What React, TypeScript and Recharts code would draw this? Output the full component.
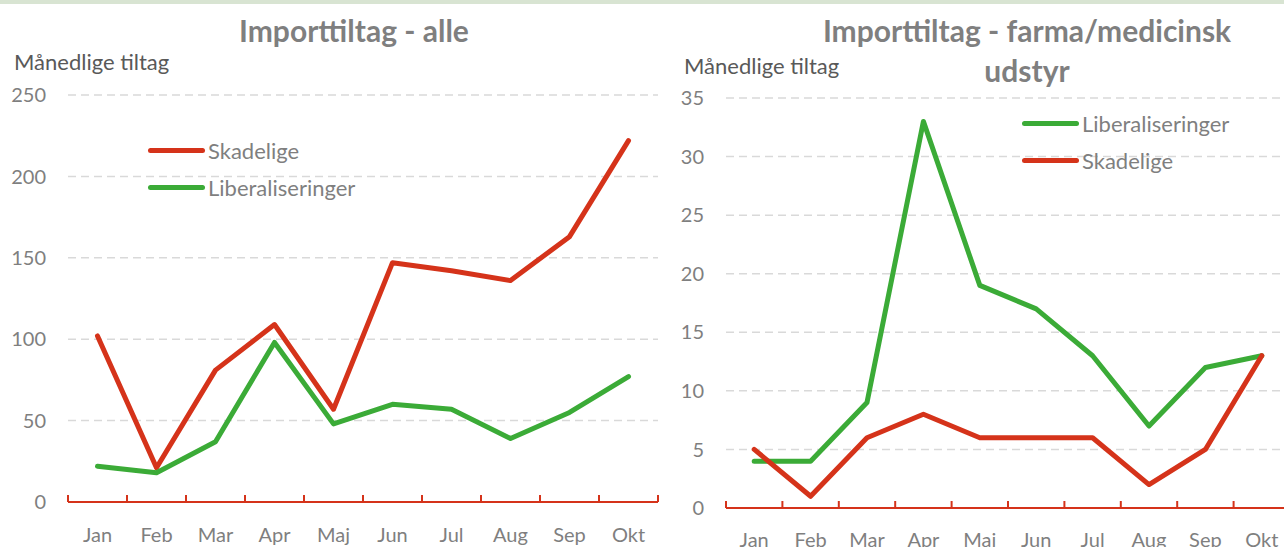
import { LineChart, Line, XAxis, YAxis, CartesianGrid } from "recharts";

const MONTHS = ["Jan", "Feb", "Mar", "Apr", "Maj", "Jun", "Jul", "Aug", "Sep", "Okt"];

const ALL_SKADELIGE = [102, 21, 81, 109, 57, 147, 142, 136, 163, 222];
const ALL_LIBERALISERINGER = [22, 18, 37, 98, 48, 60, 57, 39, 55, 77];
const ALL_Y_TICKS = [0, 50, 100, 150, 200, 250];

const PHARMA_LIBERALISERINGER = [4, 4, 9, 33, 19, 17, 13, 7, 12, 13];
const PHARMA_SKADELIGE = [5, 1, 6, 8, 6, 6, 6, 2, 5, 13];
const PHARMA_Y_TICKS = [0, 5, 10, 15, 20, 25, 30, 35];

const RED = "#d5331a";
const GREEN = "#3bab37";
const TEXT_GRAY = "#7f7f7f";
const FONT = "Lato, 'Open Sans', sans-serif";

const ALL_DATA = MONTHS.map((month, i) => ({
  month,
  skadelige: ALL_SKADELIGE[i],
  liberaliseringer: ALL_LIBERALISERINGER[i],
}));

const PHARMA_DATA = MONTHS.map((month, i) => ({
  month,
  skadelige: PHARMA_SKADELIGE[i],
  liberaliseringer: PHARMA_LIBERALISERINGER[i],
}));

type Series = { key: string; name: string; color: string };

const ALL_SERIES: Series[] = [
  { key: "skadelige", name: "Skadelige", color: RED },
  { key: "liberaliseringer", name: "Liberaliseringer", color: GREEN },
];

const PHARMA_SERIES: Series[] = [
  { key: "liberaliseringer", name: "Liberaliseringer", color: GREEN },
  { key: "skadelige", name: "Skadelige", color: RED },
];

interface PanelProps {
  data: typeof ALL_DATA;
  series: Series[];
  yTicks: number[];
  left: number;
  width: number;
  top: number;
  yAxisWidth: number;
  xAxisHeight: number;
  labelMargin: number;
  legendLeft: number;
  legendTop: number;
}

const SketchLegend = ({ series, left, top }: { series: Series[]; left: number; top: number }) => (
  <div style={{ position: "absolute", left, top, fontFamily: FONT, fontSize: 22, color: TEXT_GRAY }}>
    {series.map((s) => (
      <div key={s.key} style={{ display: "flex", alignItems: "center", height: 37 }}>
        <span style={{ width: 57, height: 5, borderRadius: 2.5, background: s.color, marginRight: 3 }} />
        <span>{s.name}</span>
      </div>
    ))}
  </div>
);

// month label at the band centre, Excel style tick marks on the band edges (pointing up)
const makeMonthTick = (halfBand: number, labelMargin: number) => (props: any) => {
  const { x, y, payload, index } = props;
  const axisY = y - labelMargin;
  return (
    <g>
      <line x1={x - halfBand} x2={x - halfBand} y1={axisY} y2={axisY - 7} stroke={RED} strokeWidth={2} />
      {index === MONTHS.length - 1 && (
        <line x1={x + halfBand} x2={x + halfBand} y1={axisY} y2={axisY - 7} stroke={RED} strokeWidth={2} />
      )}
      <text x={x} y={y} dy="0.71em" textAnchor="middle" fill={TEXT_GRAY} fontSize={20} fontFamily={FONT}>
        {payload.value}
      </text>
    </g>
  );
};

const MonthlyPanel = ({
  data,
  series,
  yTicks,
  left,
  width,
  top,
  yAxisWidth,
  xAxisHeight,
  labelMargin,
  legendLeft,
  legendTop,
}: PanelProps) => {
  const plotWidth = width - yAxisWidth - 2;
  const pad = plotWidth / (MONTHS.length * 2);
  return (
    <div style={{ position: "absolute", left, top: 0, width, height: 547 }}>
      <LineChart
        width={width}
        height={547}
        data={data}
        margin={{ top, right: 2, bottom: 0, left: 0 }}
        style={{ fontFamily: FONT }}
      >
        <CartesianGrid vertical={false} stroke="#d9d9d9" strokeWidth={1.5} strokeDasharray="8 5" />
        <XAxis
          dataKey="month"
          type="category"
          interval={0}
          padding={{ left: pad, right: pad }}
          axisLine={{ stroke: RED, strokeWidth: 2 }}
          tickLine={false}
          tickSize={0}
          tickMargin={labelMargin}
          height={xAxisHeight}
          tick={makeMonthTick(pad, labelMargin)}
        />
        <YAxis
          domain={[0, yTicks[yTicks.length - 1]]}
          ticks={yTicks}
          interval={0}
          width={yAxisWidth}
          axisLine={false}
          tickLine={false}
          tickMargin={16}
          tick={{ fill: TEXT_GRAY, fontSize: 20 }}
        />
        {series.map((s) => (
          <Line
            key={s.key}
            type="linear"
            dataKey={s.key}
            name={s.name}
            stroke={s.color}
            strokeWidth={5}
            strokeLinecap="round"
            strokeLinejoin="round"
            dot={false}
            activeDot={false}
            isAnimationActive={false}
          />
        ))}
      </LineChart>
      <SketchLegend series={series} left={legendLeft} top={legendTop} />
    </div>
  );
};

const textBase = { position: "absolute" as const, fontFamily: FONT, color: TEXT_GRAY, whiteSpace: "nowrap" as const };

export default function App() {
  return (
    <div
      style={{
        position: "absolute",
        left: 0,
        top: 0,
        width: 1284,
        height: 547,
        background: "#ffffff",
        overflow: "hidden",
      }}
    >
      <div style={{ position: "absolute", left: 0, top: 0, width: 1284, height: 4, background: "#d8e4d2" }} />

      <MonthlyPanel
        data={ALL_DATA}
        series={ALL_SERIES}
        yTicks={ALL_Y_TICKS}
        left={0}
        width={660}
        top={95}
        yAxisWidth={68}
        xAxisHeight={45}
        labelMargin={26}
        legendLeft={148}
        legendTop={150 - 18}
      />
      <MonthlyPanel
        data={PHARMA_DATA}
        series={PHARMA_SERIES}
        yTicks={PHARMA_Y_TICKS}
        left={660}
        width={632}
        top={98}
        yAxisWidth={66}
        xAxisHeight={39}
        labelMargin={25}
        legendLeft={1022 - 660}
        legendTop={123 - 18}
      />

      <div
        style={{ ...textBase, left: 0, width: 708, top: 11, lineHeight: "38px", textAlign: "center", fontSize: 30, fontWeight: 700 }}
      >
        Importtiltag - alle
      </div>
      <div style={{ ...textBase, left: 14, top: 48, fontSize: 22, color: "#595959" }}>Månedlige tiltag</div>

      <div
        style={{
          ...textBase,
          left: 777,
          width: 500,
          top: 10,
          textAlign: "center",
          fontSize: 30,
          fontWeight: 700,
          lineHeight: "40px",
          whiteSpace: "normal",
        }}
      >
        Importtiltag - farma/medicinsk
        <br />
        udstyr
      </div>
      <div style={{ ...textBase, left: 684, top: 52, fontSize: 22, color: "#595959" }}>Månedlige tiltag</div>
    </div>
  );
}
